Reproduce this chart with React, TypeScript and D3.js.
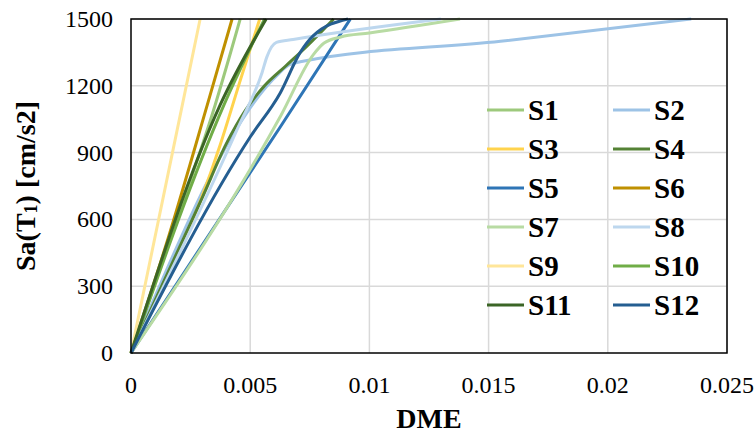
import { useEffect, useRef } from 'react';
import * as d3 from 'd3';

const WIDTH = 756;
const HEIGHT = 435;

const SERIES = ['S1', 'S2', 'S3', 'S4', 'S5', 'S6', 'S7', 'S8', 'S9', 'S10', 'S11', 'S12'];
const COLORS = ['#9DC97C', '#9DC3E6', '#FFD34D', '#548235', '#2E75B6', '#BF9000',
  '#B8DBA3', '#BDD7EE', '#FFE699', '#70AD47', '#3B6526', '#255E91'];

// [DME, Sa] pairs
const S1 = [[0, 0], [0.0018, 560], [0.00353, 1114], [0.00458, 1500]];
const S2 = [[0, 0], [0.0062, 1255], [0.0066, 1292], [0.0071, 1308], [0.0155, 1400], [0.0235, 1500]];
const S3 = [[0, 0], [0.00374, 934], [0.0046, 1230], [0.0054, 1500]];
const S4 = [[0, 0], [0.003, 700], [0.004, 940], [0.0048, 1090], [0.0056, 1200], [0.0065, 1290], [0.0074, 1380], [0.0085, 1500]];
const S5 = [[0, 0], [0.00626, 1015], [0.0092, 1500]];
const S6 = [[0, 0], [0.0016, 530], [0.0032, 1114], [0.00424, 1500]];
const S7 = [[0, 0], [0.0063, 1069], [0.00765, 1340], [0.0081, 1392], [0.0088, 1419], [0.01, 1437], [0.0138, 1500]];
const S8 = [[0, 0], [0.0045, 1015], [0.0055, 1260], [0.0057, 1330], [0.0061, 1395], [0.0068, 1408], [0.013, 1500]];
const S9 = [[0, 0], [0.00185, 957], [0.0029, 1500]];
const S10 = [[0, 0], [0.0039, 1114], [0.0056, 1500]];
const S11 = [[0, 0], [0.00374, 1114], [0.00567, 1500]];
const S12 = [[0, 0], [0.005, 970], [0.00626, 1168], [0.0071, 1350], [0.00765, 1425], [0.0091, 1500]];
const VALUES = [S1, S2, S3, S4, S5, S6, S7, S8, S9, S10, S11, S12];

const X_TICKS = [0, 0.005, 0.01, 0.015, 0.02, 0.025];
const X_TICK_LABELS = ['0', '0.005', '0.01', '0.015', '0.02', '0.025'];
const Y_TICKS = [0, 300, 600, 900, 1200, 1500];

const FONT = 'Liberation Serif';

export default function App() {
  const svgRef = useRef<SVGSVGElement>(null);

  useEffect(() => {
    const svg = d3.select(svgRef.current);
    svg.selectAll('*').remove();

    const m = { left: 131, right: 727, top: 19, bottom: 353 };
    const x = d3.scaleLinear().domain([0, 0.025]).range([m.left, m.right]);
    const y = d3.scaleLinear().domain([0, 1500]).range([m.bottom, m.top]);

    // grid
    svg.append('g').selectAll('line').data(X_TICKS.slice(1)).join('line')
      .attr('x1', d => x(d)).attr('x2', d => x(d))
      .attr('y1', m.top).attr('y2', m.bottom)
      .attr('stroke', '#D9D9D9').attr('stroke-width', 1.5);
    svg.append('g').selectAll('line').data(Y_TICKS.slice(1)).join('line')
      .attr('x1', m.left).attr('x2', m.right)
      .attr('y1', d => y(d)).attr('y2', d => y(d))
      .attr('stroke', '#D9D9D9').attr('stroke-width', 1.5);

    // series
    const line = d3.line<number[]>()
      .x(d => x(d[0])).y(d => y(d[1]))
      .curve(d3.curveMonotoneX);
    svg.append('g').selectAll('path').data(VALUES).join('path')
      .attr('d', d => line(d))
      .attr('fill', 'none')
      .attr('stroke', (_, i) => COLORS[i])
      .attr('stroke-width', 3)
      .attr('stroke-linejoin', 'round');

    // frame
    svg.append('rect')
      .attr('x', m.left).attr('y', m.top)
      .attr('width', m.right - m.left).attr('height', m.bottom - m.top)
      .attr('fill', 'none').attr('stroke', '#000').attr('stroke-width', 1.5);

    // tick labels
    svg.append('g').selectAll('text').data(X_TICKS).join('text')
      .attr('x', d => x(d)).attr('y', 385)
      .attr('text-anchor', 'middle').attr('dominant-baseline', 'central')
      .style('font-family', FONT).attr('font-size', 24)
      .text((_, i) => X_TICK_LABELS[i]);
    svg.append('g').selectAll('text').data(Y_TICKS).join('text')
      .attr('x', 113).attr('y', d => y(d))
      .attr('text-anchor', 'end').attr('dominant-baseline', 'central')
      .style('font-family', FONT).attr('font-size', 24)
      .text(d => String(d));

    // axis titles
    svg.append('text')
      .attr('x', (m.left + m.right) / 2).attr('y', 418)
      .attr('text-anchor', 'middle').attr('dominant-baseline', 'central')
      .style('font-family', FONT).attr('font-size', 28).attr('font-weight', 'bold')
      .text('DME');

    const yt = svg.append('text')
      .attr('transform', `translate(25,${(m.top + m.bottom) / 2}) rotate(-90)`)
      .attr('text-anchor', 'middle').attr('dominant-baseline', 'central')
      .style('font-family', FONT).attr('font-size', 28).attr('font-weight', 'bold');
    yt.append('tspan').text('Sa(T');
    yt.append('tspan').attr('font-size', 18).attr('dy', 6).text('1');
    yt.append('tspan').attr('dy', -6).text(') [cm/s2]');

    // legend, two columns
    const lg = svg.append('g').selectAll('g').data(SERIES).join('g')
      .attr('transform', (_, i) => `translate(${i % 2 === 0 ? 487 : 613},${110 + Math.floor(i / 2) * 39})`);
    lg.append('line')
      .attr('x1', 0).attr('x2', 37).attr('y1', 0).attr('y2', 0)
      .attr('stroke', (_, i) => COLORS[i]).attr('stroke-width', 3);
    lg.append('text')
      .attr('x', 41).attr('y', 0)
      .attr('dominant-baseline', 'central')
      .style('font-family', FONT).attr('font-size', 29).attr('font-weight', 'bold')
      .text(d => d);
  }, []);

  return (
    <svg
      ref={svgRef}
      width={WIDTH}
      height={HEIGHT}
      style={{ position: 'absolute', left: 0, top: 0, background: '#fff', fontFamily: FONT }}
    />
  );
}
